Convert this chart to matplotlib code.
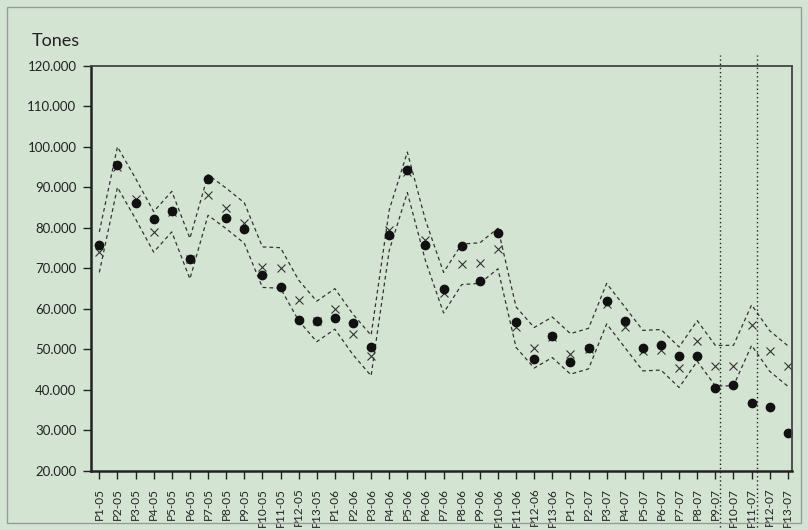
import matplotlib
matplotlib.use("Agg")
import matplotlib.pyplot as plt
import matplotlib.patches as patches
from matplotlib.ticker import FuncFormatter

plt.rcParams["font.family"] = ["Lato", "DejaVu Sans"]

periods = [f"P{n}-{yy}" for yy in ("05", "06", "07") for n in range(1, 14)]

actual = [75700, 95500, 86200, 82300, 84200, 72200, 92000, 82500, 79700, 68400,
          65400, 57300, 56900, 57800, 56500, 50500, 78300, 94300, 75700, 64800,
          75400, 67000, 78800, 56700, 47600, 53400, 46800, 50300, 62000, 57000,
          50300, 51000, 48300, 48300, 40500, 41300, 36800, 35700, 29500]

forecast = [74000, 95000, 87200, 79000, 84000, 72400, 88100, 84800, 81200, 70300,
            70100, 62100, 56900, 60000, 53700, 48500, 79400, 93700, 76900, 64000,
            71000, 71300, 74900, 55500, 50400, 53000, 48900, 50200, 61300, 55500,
            49700, 49900, 45400, 52100, 46000, 46000, 56000, 49600, 45900]

upper = [79000, 100000, 92200, 84000, 89000, 77400, 93100, 89800, 86200, 75300,
         75100, 67100, 61900, 65000, 58700, 53500, 84400, 98700, 81900, 69000,
         76000, 76300, 79900, 60500, 55400, 58000, 53900, 55200, 66300, 60500,
         54700, 54900, 50600, 57100, 51000, 51000, 61000, 54600, 50900]

lower = [69000, 90000, 82200, 74000, 79000, 67400, 83100, 79800, 76200, 65300,
         65100, 57100, 51900, 55000, 48700, 43500, 74400, 88700, 71900, 59000,
         66000, 66300, 69900, 50500, 45400, 48000, 43900, 45200, 56300, 50500,
         44700, 44900, 40600, 47100, 41000, 41000, 51000, 44600, 40900]

# period boundaries marked with dotted lines
markers_at = [34.27, 36.28]

bg = "#d3e5d2"
ink = "#222222"

fig = plt.figure(figsize=(8.08, 5.30), dpi=100, facecolor=bg)
ax = fig.add_axes([0.1126, 0.1113, 0.9802 - 0.1126, 0.876 - 0.1113])
ax.set_facecolor(bg)

x = list(range(len(periods)))

ax.plot(x, upper, color="#333333", lw=0.9, ls=(0, (3, 2.5)))
ax.plot(x, lower, color="#333333", lw=0.9, ls=(0, (3, 2.5)))
ax.plot(x, forecast, ls="none", marker="x", ms=6, mew=0.8, color="#333333")
ax.plot(x, actual, ls="none", marker="o", ms=6, color="#111111")

for xv in markers_at:
    ax.axvline(xv, ymin=-0.138, ymax=1.026, color=ink, lw=1.0,
               ls=(0, (1, 2)), clip_on=False)

ax.set_xlim(-0.46, 38.23)
ax.set_ylim(20000, 120000)
ax.set_yticks(range(20000, 120001, 10000))
ax.yaxis.set_major_formatter(FuncFormatter(lambda v, p: f"{int(v):,}".replace(",", ".")))
ax.set_xticks(x)
ax.set_xticklabels(periods, rotation=90, fontsize=8.5, color=ink)

for lab in ax.get_yticklabels():
    lab.set_fontsize(9.5)
    lab.set_color(ink)

ax.tick_params(axis="y", length=6, width=1, color=ink, pad=4.5)
ax.tick_params(axis="x", length=6, width=1, color=ink, pad=6)

for side in ["left", "bottom"]:
    ax.spines[side].set_linewidth(1.8)
    ax.spines[side].set_color(ink)
for side in ["top", "right"]:
    ax.spines[side].set_linewidth(1.3)
    ax.spines[side].set_color("#444444")

fig.text(32 / 808, 1 - 46 / 530, "Tones", fontsize=13, color=ink,
         ha="left", va="baseline")

border = patches.Rectangle((7 / 808, 7 / 530), 794 / 808, 516 / 530,
                           transform=fig.transFigure, fill=False,
                           edgecolor="#9a9a9a", lw=1.0)
fig.patches.append(border)

fig.savefig("out.png", dpi=100, facecolor=bg)
